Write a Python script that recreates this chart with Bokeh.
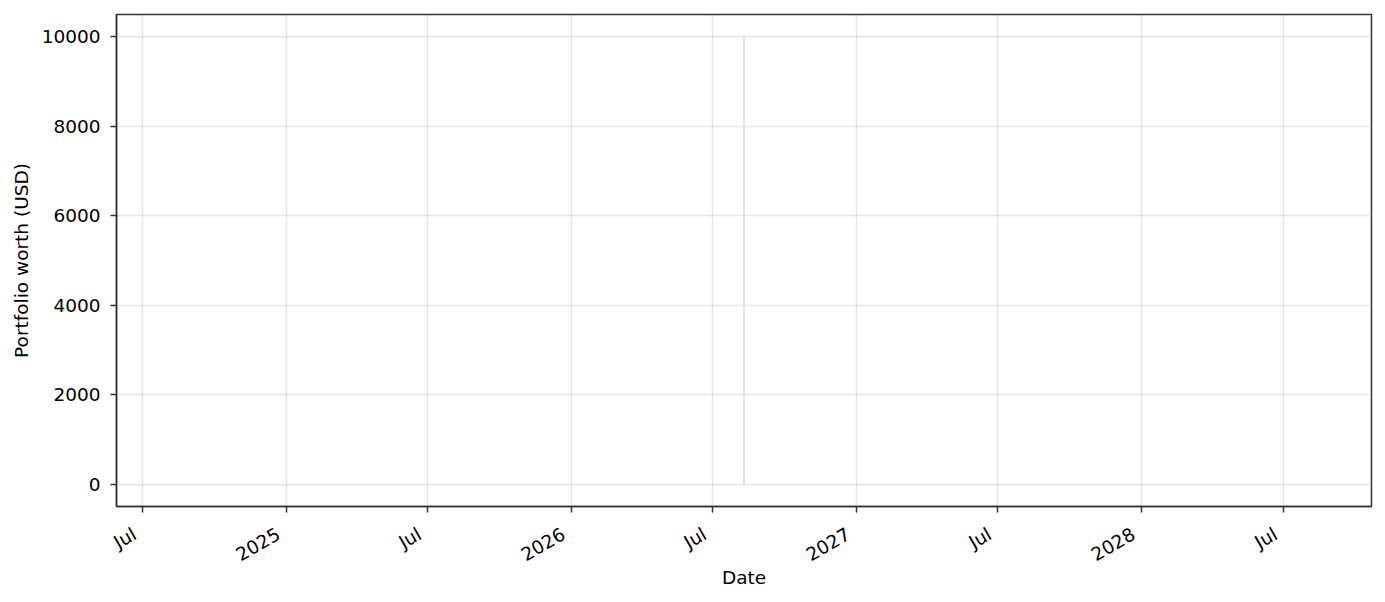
import math
import pandas as pd
from bokeh.plotting import figure
from bokeh.models import (Range1d, FixedTicker, NumeralTickFormatter, LinearAxis,
                          CustomLabelingPolicy)
from bokeh.embed import file_html
from bokeh.resources import INLINE

# ---- data ----
dates = ["2026-08-10", "2026-08-10"]
worth = [10000, 0]

x_tick_dates = ["2024-07-01", "2025-01-01", "2025-07-01", "2026-01-01", "2026-07-01",
                "2027-01-01", "2027-07-01", "2028-01-01", "2028-07-01"]
x_tick_labels = ["Jul", "2025", "Jul", "2026", "Jul", "2027", "Jul", "2028", "Jul"]
y_ticks = [0, 2000, 4000, 6000, 8000, 10000]

def ms(d):
    return pd.Timestamp(d).value / 1e6

xs = [ms(d) for d in dates]
center = ms(dates[0])
half = 2 * 365.25 * 1.1 * 86400000
tick_ms = [ms(d) for d in x_tick_dates]

FONT = "DejaVu Sans"
DARK = "#333333"
FRAME_W = 1255
shift = 8 * (2 * half) / FRAME_W   # move rotated labels so their right edge sits at the tick

p = figure(width=1377, height=594, output_backend="svg", toolbar_location=None,
           x_range=Range1d(center - half, center + half),
           y_range=Range1d(-500, 10500),
           min_border_left=116, min_border_right=6, min_border_top=14, min_border_bottom=88)
p.extra_x_ranges = {"labels": Range1d(center - half + shift, center + half + shift)}

p.line(xs, worth, line_color="#e0e0ea", line_width=2)

# main x axis: line + ticks only (labels come from the axis below it)
p.xaxis.ticker = FixedTicker(ticks=tick_ms)
p.xaxis.major_label_text_font_size = "1px"
p.xaxis.major_label_standoff = 0
p.xaxis.major_label_policy = CustomLabelingPolicy(
    code="for (let i = 0; i < indices.size; i++) { indices.unset(i) }\nreturn indices")

# label axis below it
lab = LinearAxis(x_range_name="labels", ticker=FixedTicker(ticks=tick_ms))
lab.major_label_overrides = {t: l for t, l in zip(tick_ms, x_tick_labels)}
lab.major_label_orientation = math.pi / 6
lab.axis_line_color = None
lab.major_tick_line_color = None
lab.minor_tick_line_color = None
lab.major_tick_out = 0
lab.major_tick_in = 0
lab.major_label_standoff = 16
lab.major_label_text_font = FONT
lab.major_label_text_font_size = "18.5px"
lab.major_label_text_color = "#000000"
lab.axis_label = "Date"
lab.axis_label_standoff = -10
lab.axis_label_text_font = FONT
lab.axis_label_text_font_size = "18.5px"
lab.axis_label_text_font_style = "normal"
lab.axis_label_text_color = "#000000"
p.add_layout(lab, "below")

p.yaxis.ticker = FixedTicker(ticks=y_ticks)
p.yaxis.formatter = NumeralTickFormatter(format="0")
p.yaxis.axis_label = "Portfolio worth (USD)"

for ax in (p.xaxis[0], p.yaxis[0]):
    ax.axis_line_color = DARK
    ax.axis_line_width = 1.5
    ax.major_tick_line_color = DARK
    ax.major_tick_line_width = 1.5
    ax.major_tick_out = 6
    ax.major_tick_in = 0
    ax.minor_tick_line_color = None

yax = p.yaxis[0]
yax.major_label_text_font = FONT
yax.major_label_text_font_size = "18.5px"
yax.major_label_text_color = "#000000"
yax.axis_label_text_font = FONT
yax.axis_label_text_font_size = "18.5px"
yax.axis_label_text_font_style = "normal"
yax.axis_label_text_color = "#000000"
yax.major_label_standoff = 10
yax.axis_label_standoff = 7

p.grid.grid_line_color = "#b0b0b0"
p.grid.grid_line_alpha = 0.3
p.grid.grid_line_width = 1.5
p.outline_line_color = DARK
p.outline_line_width = 1.5
p.outline_line_alpha = 1.0
p.background_fill_color = "white"
p.border_fill_color = "white"

open("out.html", "w").write(file_html(p, INLINE))
